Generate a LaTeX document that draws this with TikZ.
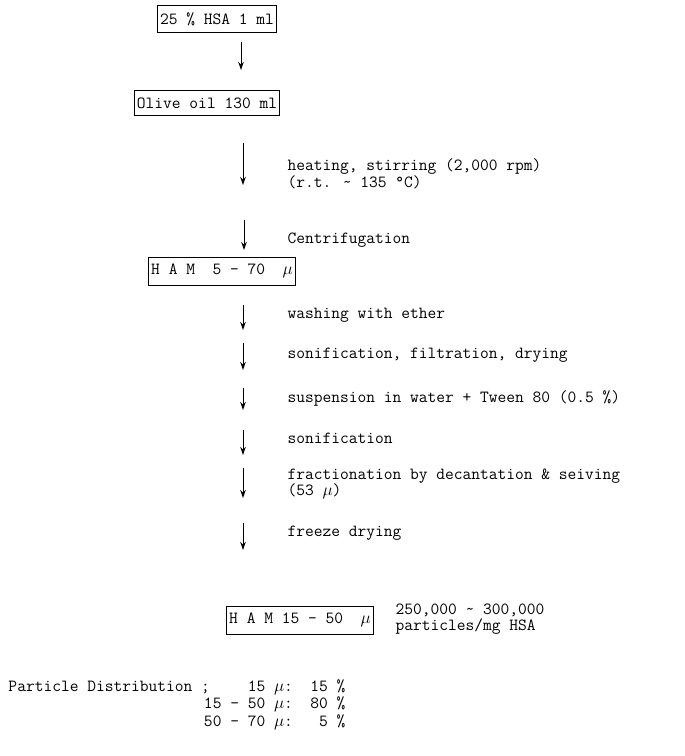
\documentclass[tikz,border=0pt]{standalone}
\usepackage{amsmath}
\usepackage{tikz}
\usetikzlibrary{positioning, arrows, arrows.meta}

\newcommand{\typed}{\fontsize{17}{15.5}\selectfont\ttfamily}
\newcommand{\um}{$\mu$}

\tikzset{
  stage/.style={draw, line width=1pt, inner xsep=2.5pt, inner ysep=7pt, font=\typed},
  note/.style={anchor=west, align=left, inner sep=0pt, font=\typed},
}

\begin{document}
\begin{tikzpicture}[x=1pt, y=-1pt, ->, >={Stealth[length=8pt,width=5.5pt]}, line width=1pt]
      \useasboundingbox (0,0) rectangle (685,756);

      \node[stage] (hsa) at (217,19) {25 \% HSA 1 ml};
      \node[stage] (oil) at (207,103) {Olive oil 130 ml};
      \node[stage] (ham) at (222,271) {H A M\ \ 5 \textendash{} 70\ \ \um};
      \node[stage] (hamfin) at (300,620) {H A M 15 \textendash{} 50\ \ \um};

      \node[note] (heat) at (287,174) {heating, stirring (2,000 rpm)\\(r.t. \textasciitilde{} 135 °C)};
      \node[note] (centr) at (287,240) {Centrifugation};
      \node[note] (wash) at (287,315) {washing with ether};
      \node[note] (sonfil) at (287,355) {sonification, filtration, drying};
      \node[note] (susp) at (287,398) {suspension in water + Tween 80 (0.5 \%)};
      \node[note] (sonic) at (287,438) {sonification};
      \node[note] (fract) at (287,484) {fractionation by decantation \& seiving\\(53 \um)};
      \node[note] (freeze) at (287,533) {freeze drying};
      \node[note] (yield) at (395,619) {250,000 \textasciitilde{} 300,000\\particles/mg HSA};

      \node[note] (distr) at (8,687) {Particle Distribution ;};
      \node[inner sep=0pt, anchor=north east, font=\typed] (table) at (346,679)
        {\begin{tabular}{@{}r@{:\ \ }r@{}}
           15 \um & 15 \% \\[1pt]
           15 \textendash{} 50 \um & 80 \% \\[1pt]
           50 \textendash{} 70 \um & 5 \%
         \end{tabular}};

      \coordinate (a1) at (241,42);  \coordinate (b1) at (241,70);
      \coordinate (a2) at (243,143); \coordinate (b2) at (243,185);
      \coordinate (a3) at (244,220); \coordinate (b3) at (244,250);
      \coordinate (a4) at (243,305); \coordinate (b4) at (243,330);
      \coordinate (a5) at (243,343); \coordinate (b5) at (243,370);
      \coordinate (a6) at (243,388); \coordinate (b6) at (243,410);
      \coordinate (a7) at (243,430); \coordinate (b7) at (243,455);
      \coordinate (a8) at (243,468); \coordinate (b8) at (243,498);
      \coordinate (a9) at (243,523); \coordinate (b9) at (243,550);

      \path (a1) edge (b1)
            (a2) edge (b2)
            (a3) edge (b3)
            (a4) edge (b4)
            (a5) edge (b5)
            (a6) edge (b6)
            (a7) edge (b7)
            (a8) edge (b8)
            (a9) edge (b9)
            ;
    \end{tikzpicture}
\end{document}
